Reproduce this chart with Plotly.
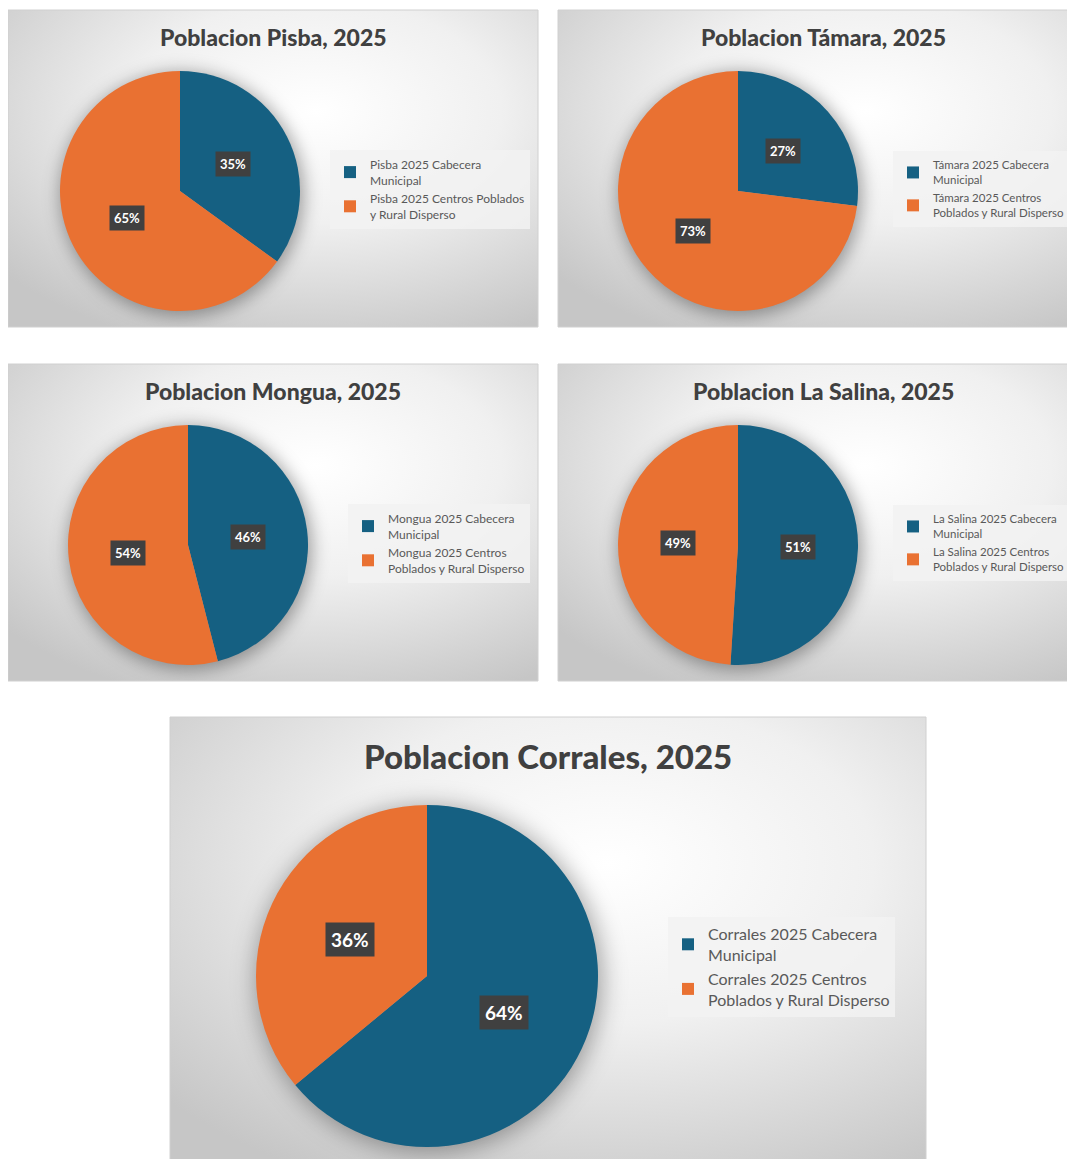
import base64
import math
import plotly.graph_objects as go

# Datos (porcentaje de poblacion por zona)
municipios = ["Pisba", "Támara", "Mongua", "La Salina", "Corrales"]
cabecera = [35, 27, 46, 51, 64]
rural = [65, 73, 54, 49, 36]
etiquetas_legenda = [
    ["Pisba 2025 Cabecera<br>Municipal", "Pisba 2025 Centros Poblados<br>y Rural Disperso"],
    ["Támara 2025 Cabecera<br>Municipal", "Támara 2025 Centros<br>Poblados y Rural Disperso"],
    ["Mongua 2025 Cabecera<br>Municipal", "Mongua 2025 Centros<br>Poblados y Rural Disperso"],
    ["La Salina 2025 Cabecera<br>Municipal", "La Salina 2025 Centros<br>Poblados y Rural Disperso"],
    ["Corrales 2025 Cabecera<br>Municipal", "Corrales 2025 Centros<br>Poblados y Rural Disperso"],
]
colores = ["#156082", "#E97132"]

# la pagina tiene 8px de margen en el body: se descuenta para que todo cuadre
OFF = 8
W, H = 1075 - 2 * OFF, 1167 - 2 * OFF

# Geometria de cada panel (pixeles de la ventana): caja, centro del pie, radio, titulo, leyenda
paneles = [
    dict(box=(8, 10, 538, 327), pie=(180, 191, 120), tit=(273, 37, 23), leg=(330, 150, 12), lab=13),
    dict(box=(558, 10, 1088, 327), pie=(738, 191, 120), tit=(823, 37, 23), leg=(893, 151, 11.5), lab=13),
    dict(box=(8, 364, 538, 681), pie=(188, 545, 120), tit=(273, 391, 23), leg=(348, 504, 12), lab=13),
    dict(box=(558, 364, 1088, 681), pie=(738, 545, 120), tit=(823, 391, 23), leg=(893, 505, 11.5), lab=13),
    dict(box=(170, 717, 926, 1175), pie=(427, 976, 171), tit=(548, 756, 33), leg=(668, 917, 16), lab=19),
]


def fx(x):
    return (x - OFF) / W


def fy(y):
    return 1 - (y - OFF) / H


def fondo_svg(p):
    x0, y0, x1, y1 = p["box"]
    w, h = x1 - x0, y1 - y0
    cx, cy, r = p["pie"]
    svg = f'''<svg xmlns="http://www.w3.org/2000/svg" width="{w}" height="{h}" viewBox="0 0 {w} {h}">
<defs>
<radialGradient id="g" cx="0.58" cy="0.32" r="0.78">
<stop offset="0" stop-color="#ffffff"/><stop offset="0.45" stop-color="#f0f0f0"/><stop offset="1" stop-color="#c6c6c6"/>
</radialGradient>
<filter id="f" x="-30%" y="-30%" width="160%" height="160%"><feGaussianBlur stdDeviation="{r/14:.1f}"/></filter>
</defs>
<rect width="{w}" height="{h}" fill="url(#g)"/>
<circle cx="{cx - x0 + 2}" cy="{cy - y0 + 3}" r="{r + 2}" fill="#000" fill-opacity="0.35" filter="url(#f)"/>
</svg>'''
    return "data:image/svg+xml;base64," + base64.b64encode(svg.encode("utf-8")).decode()


fig = go.Figure()
annotations = []
images = []
shapes = []
layout_legends = {}

for i, p in enumerate(paneles):
    cx, cy, r = p["pie"]
    x0, y0, x1, y1 = p["box"]
    valores = [cabecera[i], rural[i]]
    leg_name = "legend" if i == 0 else f"legend{i + 1}"

    fig.add_trace(go.Pie(
        labels=etiquetas_legenda[i], values=valores, sort=False,
        direction="clockwise", rotation=0,
        marker=dict(colors=colores, line=dict(width=0)),
        textinfo="none", hoverinfo="label+percent",
        domain=dict(x=[fx(cx - r), fx(cx + r)], y=[fy(cy + r), fy(cy - r)]),
        legend=leg_name, showlegend=True,
    ))

    # fondo con degradado
    images.append(dict(source=fondo_svg(p), xref="paper", yref="paper", x=fx(x0), y=fy(y0),
                       sizex=(x1 - x0) / W, sizey=(y1 - y0) / H, sizing="stretch",
                       xanchor="left", yanchor="top", layer="below"))
    shapes.append(dict(type="rect", xref="paper", yref="paper", x0=fx(x0), x1=fx(x1),
                       y0=fy(y1), y1=fy(y0), line=dict(color="#d0d0d0", width=1),
                       fillcolor="rgba(0,0,0,0)", layer="below"))

    # titulo
    tx, ty, tsize = p["tit"]
    annotations.append(dict(text=f"Poblacion {municipios[i]}, 2025", x=fx(tx), y=fy(ty),
                            xref="paper", yref="paper", showarrow=False, xanchor="center", yanchor="middle",
                            font=dict(family="Lato", size=tsize, color="#404040", weight=900)))

    # etiquetas de porcentaje (a medio radio, en el angulo medio de cada porcion)
    total = sum(valores)
    acum = 0
    for v in valores:
        ang = (acum + v / 2) / total * 2 * math.pi
        acum += v
        lx = cx + 0.5 * r * math.sin(ang)
        ly = cy - 0.5 * r * math.cos(ang)
        annotations.append(dict(text=f"<b>{round(v / total * 100)}%</b>", x=fx(lx), y=fy(ly),
                                xref="paper", yref="paper", showarrow=False,
                                xanchor="center", yanchor="middle",
                                font=dict(family="Lato", size=p["lab"], color="white"),
                                bgcolor="#404040", borderpad=4 if p["lab"] < 15 else 5))

    # leyenda
    lx, ly, lsize = p["leg"]
    layout_legends[leg_name] = dict(
        x=fx(lx), y=fy(ly), xanchor="left", yanchor="top", xref="paper", yref="paper",
        bgcolor="rgba(242,242,242,0.85)", font=dict(family="Lato", size=lsize, color="#595959"),
        itemclick=False, itemdoubleclick=False, tracegroupgap=0,
    )

fig.update_layout(
    width=W, height=H, autosize=False,
    margin=dict(l=0, r=0, t=0, b=0, autoexpand=False),
    paper_bgcolor="white", plot_bgcolor="white",
    annotations=annotations, images=images, shapes=shapes,
    **layout_legends,
)

fig.write_html("out.html")
